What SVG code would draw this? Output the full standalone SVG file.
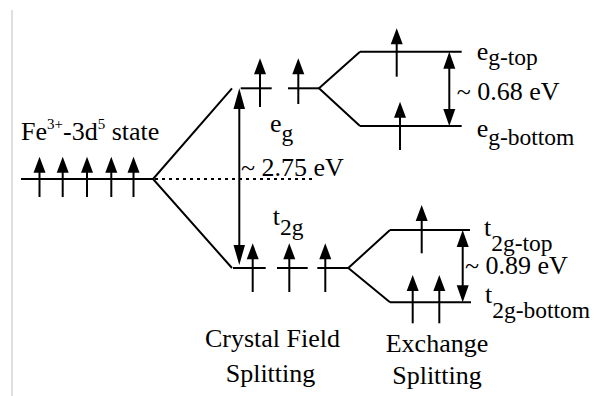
<svg xmlns="http://www.w3.org/2000/svg" width="601" height="396" viewBox="0 0 601 396">
<style>
.ln{stroke:#000;stroke-width:2;fill:none}
.dot{stroke:#000;stroke-width:2;fill:none;stroke-dasharray:3,4}
.hd{fill:#000;stroke:none}
.t{font-family:"Liberation Serif","Times New Roman",serif;font-size:26px;fill:#000}
.sub{font-size:23.5px}
.sup{font-size:15px}
</style>
<defs>
<path id="eh" d="M0,0 L-6,16 L6,16 Z"/>
<path id="up" d="M0,0 L-6,17 L6,17 Z"/>
<path id="dn" d="M0,0 L-6,-17 L6,-17 Z"/>
</defs>
<rect width="601" height="396" fill="#fff"/>
<line x1="12" y1="10" x2="12" y2="396" stroke="#d4d4d4" stroke-width="1.5"/>

<g id="connectors">
<polyline class="ln" points="232,88.3 153,179 232,268"/>
<line class="dot" x1="155" y1="179" x2="313" y2="179"/>
<polyline class="ln" points="360,51.7 319,88.3 360,126"/>
<polyline class="ln" points="390,230 348.3,268 390,302.3"/>
<g id="gap275">
<line class="ln" x1="239.3" y1="100" x2="239.3" y2="250"/>
<path class="hd" d="M239.3,88.3 L233.5,109 L245,109 Z"/>
<path class="hd" d="M239.3,265 L233.5,245 L245,245 Z"/>
</g>
<g id="gap068">
<line class="ln" x1="449.3" y1="60" x2="449.3" y2="115"/>
<use href="#up" x="449.3" y="51.7" class="hd"/>
<use href="#dn" x="449.3" y="126" class="hd"/>
</g>
<g id="gap089">
<line class="ln" x1="462.7" y1="240" x2="462.7" y2="292"/>
<use href="#up" x="462.7" y="230" class="hd"/>
<use href="#dn" x="462.7" y="302.3" class="hd"/>
</g>
</g>

<g id="fe-state">
<line class="ln" x1="21" y1="179" x2="153" y2="179"/>
<g class="ln"><line x1="39.5" y1="165" x2="39.5" y2="197"/><line x1="62.7" y1="165" x2="62.7" y2="197"/><line x1="87" y1="165" x2="87" y2="197"/><line x1="111.3" y1="165" x2="111.3" y2="197"/><line x1="133.5" y1="165" x2="133.5" y2="197"/></g>
<g class="hd"><use href="#eh" x="39.5" y="156.7"/><use href="#eh" x="62.7" y="156.7"/><use href="#eh" x="87" y="156.7"/><use href="#eh" x="111.3" y="156.7"/><use href="#eh" x="133.5" y="156.7"/></g>
<text class="t" x="21" y="139.5">Fe<tspan class="sup" dy="-11">3+</tspan><tspan dy="11">-3d</tspan><tspan class="sup" dy="-11">5</tspan><tspan dy="11"> state</tspan></text>
</g>

<g id="eg">
<line class="ln" x1="240.7" y1="88.3" x2="271.7" y2="88.3"/>
<line class="ln" x1="288" y1="88.3" x2="319" y2="88.3"/>
<line class="ln" x1="260" y1="66" x2="260" y2="107"/>
<line class="ln" x1="298.3" y1="66" x2="298.3" y2="104"/>
<g class="hd"><use href="#eh" x="260" y="58.3"/><use href="#eh" x="298.3" y="58.3"/></g>
<text class="t" x="270" y="132">e<tspan class="sub" y="141">g</tspan></text>
</g>

<text id="lbl275" class="t" x="241" y="175.5">~ 2.75 eV</text>

<g id="t2g">
<line class="ln" x1="233" y1="268" x2="265.7" y2="268"/>
<line class="ln" x1="277" y1="268" x2="307.7" y2="268"/>
<line class="ln" x1="317.3" y1="268" x2="348.3" y2="268"/>
<line class="ln" x1="252.7" y1="252" x2="252.7" y2="292"/>
<line class="ln" x1="289.3" y1="252" x2="289.3" y2="292"/>
<line class="ln" x1="325.3" y1="252" x2="325.3" y2="292"/>
<g class="hd"><use href="#eh" x="252.7" y="243.3"/><use href="#eh" x="289.3" y="243.3"/><use href="#eh" x="325.3" y="243.3"/></g>
<text class="t" x="272.7" y="225">t<tspan class="sub" y="235">2g</tspan></text>
</g>

<g id="eg-top">
<line class="ln" x1="360" y1="51.7" x2="461.7" y2="51.7"/>
<line class="ln" x1="396.7" y1="36" x2="396.7" y2="76.7"/>
<use href="#eh" x="396.7" y="28.3" class="hd"/>
<text class="t" x="476.7" y="60">e<tspan class="sub" y="65">g-top</tspan></text>
</g>

<text id="lbl068" class="t" x="456.7" y="100">~ 0.68 eV</text>

<g id="eg-bottom">
<line class="ln" x1="360" y1="126" x2="461.7" y2="126"/>
<line class="ln" x1="400" y1="110" x2="400" y2="150"/>
<use href="#eh" x="400" y="101.7" class="hd"/>
<text class="t" x="476.7" y="136.7">e<tspan class="sub" y="145">g-bottom</tspan></text>
</g>

<g id="t2g-top">
<line class="ln" x1="390" y1="230" x2="470" y2="230"/>
<line class="ln" x1="421.7" y1="213" x2="421.7" y2="253.3"/>
<use href="#eh" x="421.7" y="205" class="hd"/>
<text class="t" x="484" y="236">t<tspan class="sub" y="250.5">2g-top</tspan></text>
</g>

<text id="lbl089" class="t" x="465" y="274">~ 0.89 eV</text>

<g id="t2g-bottom">
<line class="ln" x1="390" y1="302.3" x2="471" y2="302.3"/>
<line class="ln" x1="412.7" y1="283" x2="412.7" y2="323.3"/>
<line class="ln" x1="439.3" y1="283" x2="439.3" y2="323.3"/>
<g class="hd"><use href="#eh" x="412.7" y="275"/><use href="#eh" x="439.3" y="275"/></g>
<text class="t" x="485" y="303.3">t<tspan class="sub" y="317.5">2g-bottom</tspan></text>
</g>

<g id="captions">
<text class="t" x="272.5" y="347" text-anchor="middle">Crystal Field</text>
<text class="t" x="270.5" y="381.5" text-anchor="middle">Splitting</text>
<text class="t" x="437" y="351.7" text-anchor="middle">Exchange</text>
<text class="t" x="437" y="383.5" text-anchor="middle">Splitting</text>
</g>
</svg>
